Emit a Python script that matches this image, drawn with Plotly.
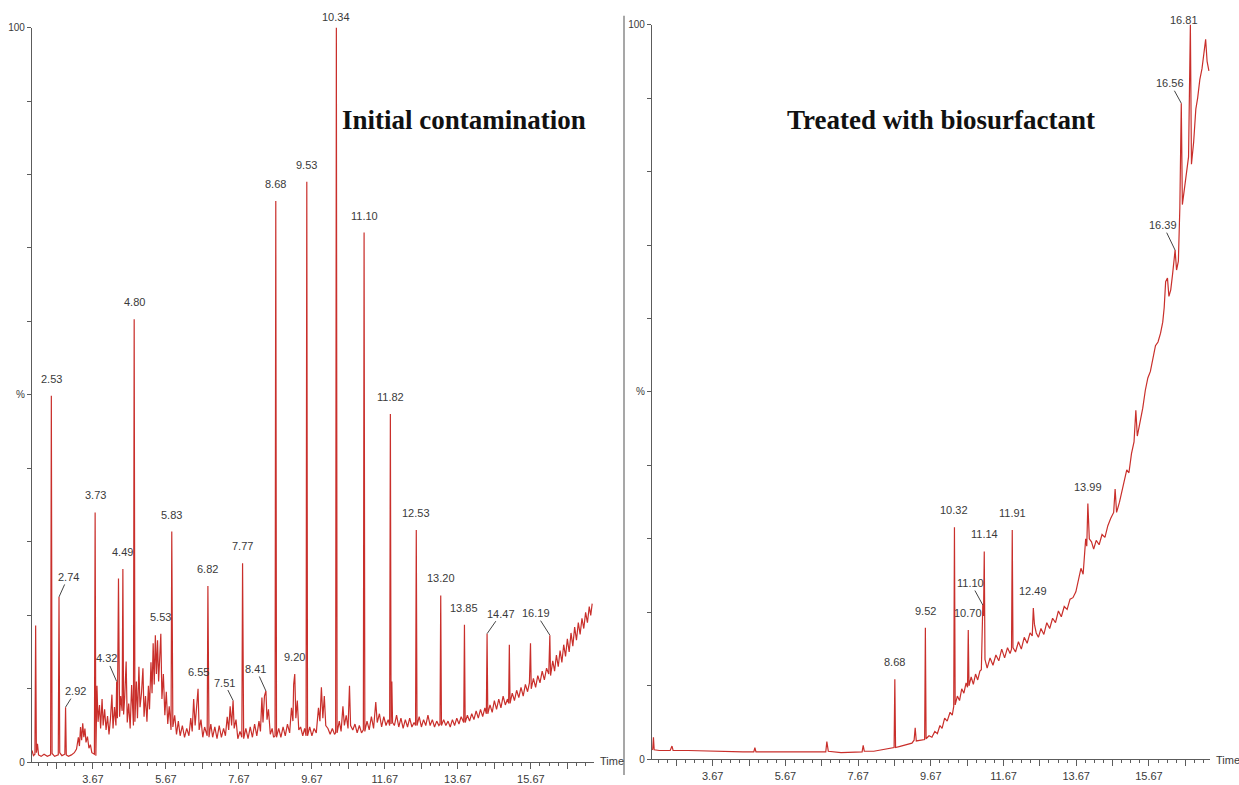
import plotly.graph_objects as go

W, H = 1239, 785

# ---------------------------------------------------------------------------
# Initial contamination: labelled peaks (retention time in min, % intensity)
LEFT_PEAK_RT = [2.53, 2.74, 2.92, 3.73, 4.32, 4.49, 4.80, 5.53, 5.83, 6.55,
                6.82, 7.51, 7.77, 8.41, 8.68, 9.20, 9.53, 10.34, 11.10, 11.82,
                12.53, 13.20, 13.85, 14.47, 16.19]
LEFT_PEAK_PCT = [49.9, 22.5, 7.5, 34.0, 11.0, 26.3, 60.3, 17.5, 31.4, 10.0,
                 24.0, 8.4, 27.1, 9.7, 76.4, 12.0, 79.0, 100.0, 72.1, 47.4,
                 31.6, 22.7, 18.7, 17.5, 17.3]

# baseline and unlabelled signal of the initial sample (time, %)
LEFT_SIGNAL = [
    (2.00, 1.6), (2.04, 0.9), (2.08, 1.1), (2.10, 18.6), (2.12, 1.3), (2.15, 2.5),
    (2.18, 1.0), (2.25, 0.8), (2.33, 1.1), (2.42, 0.8), (2.51, 1.0), (2.55, 1.2),
    (2.62, 0.8), (2.72, 1.0), (2.76, 1.3), (2.82, 0.9), (2.90, 1.1), (2.94, 1.0),
    (3.00, 0.8), (3.08, 1.0), (3.16, 1.3), (3.22, 1.8), (3.27, 3.4), (3.30, 2.2),
    (3.33, 4.8), (3.36, 3.0), (3.39, 5.3), (3.42, 3.4), (3.45, 4.6), (3.48, 2.7),
    (3.52, 3.5), (3.56, 1.9), (3.60, 2.4), (3.64, 1.3), (3.71, 1.1), (3.75, 0.9),
    (3.78, 10.4), (3.81, 5.5), (3.85, 7.8), (3.88, 4.6), (3.92, 8.6), (3.95, 5.0),
    (3.99, 7.2), (4.03, 4.4), (4.07, 6.3), (4.11, 3.8), (4.15, 5.9), (4.19, 9.2),
    (4.22, 4.6), (4.26, 7.5), (4.30, 5.0), (4.34, 6.0), (4.37, 25.0), (4.40, 6.2),
    (4.43, 9.0), (4.47, 7.0), (4.51, 6.5), (4.54, 8.8), (4.58, 13.7), (4.61, 5.4),
    (4.65, 8.0), (4.69, 4.6), (4.73, 10.5), (4.76, 6.0), (4.78, 5.0), (4.82, 5.5),
    (4.86, 11.0), (4.89, 6.0), (4.93, 13.0), (4.96, 7.5), (5.00, 9.4), (5.04, 12.8),
    (5.07, 6.2), (5.11, 9.0), (5.15, 5.5), (5.19, 10.4), (5.22, 7.2), (5.26, 13.6),
    (5.29, 9.4), (5.32, 16.2), (5.35, 10.6), (5.38, 17.3), (5.41, 12.0), (5.44, 16.6),
    (5.47, 11.0), (5.50, 14.4), (5.56, 8.6), (5.60, 12.0), (5.64, 6.4), (5.68, 9.6),
    (5.72, 5.2), (5.76, 7.6), (5.81, 4.4), (5.86, 4.8), (5.91, 6.4), (5.96, 3.8),
    (6.01, 5.6), (6.06, 3.6), (6.12, 5.0), (6.18, 3.4), (6.24, 4.6), (6.30, 3.6),
    (6.35, 6.0), (6.39, 4.2), (6.43, 8.6), (6.47, 5.0), (6.51, 7.8), (6.58, 4.4),
    (6.63, 5.8), (6.68, 3.4), (6.73, 4.8), (6.80, 3.6), (6.85, 3.4), (6.90, 5.2),
    (6.95, 3.4), (7.01, 4.8), (7.07, 3.2), (7.13, 5.0), (7.19, 3.4), (7.25, 4.6),
    (7.30, 3.6), (7.35, 6.2), (7.39, 4.4), (7.43, 7.6), (7.47, 5.0), (7.54, 4.6),
    (7.59, 5.8), (7.64, 3.2), (7.70, 4.2), (7.75, 3.4), (7.80, 3.2), (7.86, 4.6),
    (7.92, 3.2), (7.98, 4.8), (8.04, 3.4), (8.10, 5.2), (8.16, 3.6), (8.22, 5.6),
    (8.26, 4.2), (8.30, 8.8), (8.33, 5.4), (8.37, 9.0), (8.44, 5.8), (8.48, 7.2),
    (8.53, 3.8), (8.58, 4.6), (8.62, 3.4), (8.66, 3.6), (8.70, 3.4), (8.76, 4.6),
    (8.82, 3.4), (8.88, 4.8), (8.94, 3.6), (9.00, 5.2), (9.06, 4.0), (9.11, 7.4),
    (9.15, 5.6), (9.17, 10.6), (9.23, 6.0), (9.27, 8.4), (9.31, 4.4), (9.36, 4.8),
    (9.42, 3.6), (9.47, 4.6), (9.51, 3.6), (9.55, 3.6), (9.61, 4.8), (9.67, 3.6),
    (9.73, 4.6), (9.79, 4.0), (9.85, 7.4), (9.89, 5.6), (9.93, 10.2), (9.97, 6.0),
    (10.01, 9.0), (10.05, 5.0), (10.11, 4.6), (10.17, 3.8), (10.23, 4.6), (10.29, 3.8),
    (10.32, 4.0), (10.36, 4.0), (10.42, 5.6), (10.47, 4.2), (10.52, 7.6), (10.56, 5.0),
    (10.61, 6.4), (10.66, 4.6), (10.70, 10.4), (10.73, 5.0), (10.79, 4.4), (10.85, 5.2),
    (10.91, 4.0), (10.97, 5.0), (11.03, 4.0), (11.08, 4.4), (11.12, 4.2), (11.18, 5.6),
    (11.24, 4.4), (11.30, 6.2), (11.36, 4.6), (11.42, 8.2), (11.46, 5.4), (11.52, 6.6),
    (11.58, 4.8), (11.64, 6.2), (11.70, 5.0), (11.76, 5.8), (11.80, 5.0), (11.84, 5.2),
    (11.86, 11.0), (11.88, 5.4), (11.93, 5.0), (11.99, 6.4), (12.05, 4.8), (12.11, 6.0),
    (12.17, 4.6), (12.23, 5.8), (12.29, 4.8), (12.35, 6.0), (12.41, 4.8), (12.47, 5.4),
    (12.51, 5.0), (12.55, 5.0), (12.61, 6.2), (12.67, 4.8), (12.73, 5.8), (12.79, 5.0),
    (12.85, 6.4), (12.91, 5.0), (12.97, 5.8), (13.03, 4.8), (13.09, 5.6), (13.15, 5.0),
    (13.18, 5.2), (13.22, 5.0), (13.28, 5.8), (13.34, 5.0), (13.40, 5.6), (13.46, 4.8),
    (13.52, 5.8), (13.58, 5.0), (13.64, 6.0), (13.70, 5.2), (13.76, 6.2), (13.83, 5.4),
    (13.87, 5.4), (13.93, 6.4), (13.99, 5.6), (14.05, 6.6), (14.11, 5.8), (14.17, 7.0),
    (14.23, 6.0), (14.29, 7.2), (14.35, 6.2), (14.41, 7.4), (14.45, 6.6), (14.49, 6.6),
    (14.55, 7.8), (14.61, 6.8), (14.67, 8.4), (14.73, 7.2), (14.79, 8.6), (14.85, 7.4),
    (14.91, 9.0), (14.97, 7.8), (15.03, 8.6), (15.06, 8.0), (15.08, 16.0), (15.10, 8.0),
    (15.16, 9.4), (15.22, 8.4), (15.28, 9.8), (15.34, 8.8), (15.40, 10.2), (15.46, 9.0),
    (15.52, 10.6), (15.58, 9.6), (15.63, 10.8), (15.66, 16.2), (15.68, 10.0), (15.74, 11.4),
    (15.80, 10.2), (15.86, 11.8), (15.92, 10.8), (15.98, 12.4), (16.04, 11.2), (16.10, 12.8),
    (16.16, 12.0), (16.21, 11.8), (16.27, 13.8), (16.32, 12.4), (16.37, 14.6), (16.42, 13.0),
    (16.47, 15.2), (16.52, 13.6), (16.57, 16.0), (16.62, 14.4), (16.67, 16.8), (16.72, 15.0),
    (16.77, 17.6), (16.82, 15.8), (16.87, 18.4), (16.92, 16.6), (16.97, 19.0), (17.02, 17.4),
    (17.07, 19.6), (17.12, 18.2), (17.17, 20.4), (17.22, 19.0), (17.27, 21.2), (17.31, 20.0),
    (17.35, 21.6),
]

# ---------------------------------------------------------------------------
# Treated with biosurfactant: labelled peaks (retention time in min, % intensity)
RIGHT_PEAK_RT = [8.68, 9.52, 10.32, 10.70, 11.10, 11.14, 11.91, 12.49, 13.99,
                 16.39, 16.56, 16.81]
RIGHT_PEAK_PCT = [10.9, 17.9, 31.6, 17.6, 21.0, 28.3, 31.2, 20.6, 34.8,
                  69.3, 89.3, 100.0]

# baseline and unlabelled signal of the treated sample (time, %)
RIGHT_SIGNAL = [
    (2.00, 1.3), (2.02, 1.4), (2.04, 3.0), (2.06, 1.3), (2.20, 1.2), (2.50, 1.2),
    (2.55, 1.8), (2.58, 1.2), (3.00, 1.2), (3.50, 1.1), (4.00, 1.1), (4.50, 1.0),
    (4.80, 1.0), (4.83, 1.6), (4.86, 1.0), (5.40, 1.0), (6.00, 0.9), (6.50, 0.9),
    (6.78, 1.0), (6.81, 2.4), (6.85, 1.1), (7.20, 0.9), (7.60, 1.0), (7.78, 1.0),
    (7.81, 1.9), (7.84, 1.1), (8.10, 1.1), (8.30, 1.3), (8.50, 1.5), (8.66, 1.6),
    (8.70, 1.6), (8.85, 1.8), (9.00, 2.0), (9.15, 2.2), (9.21, 2.6), (9.24, 4.3),
    (9.27, 2.5), (9.40, 2.6), (9.50, 2.7), (9.54, 2.8), (9.62, 3.2), (9.70, 3.0),
    (9.78, 3.8), (9.85, 3.5), (9.92, 4.6), (9.98, 4.2), (10.05, 5.6), (10.12, 5.2),
    (10.20, 6.4), (10.26, 6.0), (10.30, 7.2), (10.34, 7.4), (10.40, 8.6), (10.46, 8.0),
    (10.52, 9.6), (10.58, 9.0), (10.64, 10.4), (10.68, 9.8), (10.72, 10.0), (10.78, 11.2),
    (10.84, 10.2), (10.90, 11.6), (10.96, 10.8), (11.02, 12.0), (11.06, 12.2), (11.12, 19.5),
    (11.16, 13.6), (11.22, 12.4), (11.30, 13.8), (11.38, 12.8), (11.46, 14.2), (11.54, 13.4),
    (11.62, 15.0), (11.70, 13.8), (11.78, 15.2), (11.85, 14.4), (11.89, 15.0), (11.93, 15.2),
    (12.00, 14.6), (12.08, 16.0), (12.16, 15.0), (12.24, 16.6), (12.32, 15.8), (12.40, 17.2),
    (12.46, 16.8), (12.52, 18.4), (12.57, 17.2), (12.63, 16.6), (12.70, 17.8), (12.78, 17.0),
    (12.86, 18.6), (12.94, 17.8), (13.02, 19.2), (13.10, 18.6), (13.18, 20.2), (13.26, 19.4),
    (13.34, 20.8), (13.42, 20.4), (13.50, 21.8), (13.58, 22.0), (13.66, 22.8), (13.72, 24.0),
    (13.80, 26.0), (13.86, 25.2), (13.93, 30.0), (13.96, 29.0), (14.03, 30.0), (14.09, 29.6),
    (14.15, 28.6), (14.22, 29.8), (14.30, 29.2), (14.38, 30.6), (14.46, 30.2), (14.54, 31.8),
    (14.62, 32.8), (14.70, 33.6), (14.74, 36.8), (14.78, 33.6), (14.86, 35.0), (14.94, 36.8),
    (15.01, 38.2), (15.06, 39.4), (15.12, 39.0), (15.19, 41.6), (15.26, 43.2), (15.31, 47.5),
    (15.35, 44.0), (15.42, 45.6), (15.50, 47.8), (15.57, 50.2), (15.64, 51.9), (15.71, 52.8),
    (15.78, 54.6), (15.85, 56.3), (15.92, 56.8), (15.99, 58.0), (16.05, 59.5), (16.09, 61.5),
    (16.13, 65.0), (16.18, 65.5), (16.22, 63.0), (16.27, 63.9), (16.32, 66.0), (16.36, 67.5),
    (16.43, 66.6), (16.48, 67.8), (16.52, 75.0), (16.59, 75.5), (16.64, 77.5), (16.70, 79.5),
    (16.76, 82.0), (16.84, 81.0), (16.90, 84.0), (16.96, 88.5), (17.01, 90.0), (17.07, 92.5),
    (17.13, 94.0), (17.19, 96.5), (17.23, 98.0), (17.27, 95.0), (17.32, 93.7),
]

# axis ticks (minutes / relative abundance)
X_TICK_VALUES = [2.67, 3.67, 4.67, 5.67, 6.67, 7.67, 8.67, 9.67, 10.67, 11.67,
                 12.67, 13.67, 14.67, 15.67, 16.67]
X_TICK_TEXT = ["", "3.67", "", "5.67", "", "7.67", "", "9.67", "", "11.67",
               "", "13.67", "", "15.67", ""]
X_MINOR_STEP = 0.25
Y_TICK_VALUES = [0, 10, 20, 30, 40, 50, 60, 70, 80, 90, 100]
Y_TICK_TEXT = ["0", "", "", "", "", "%", "", "", "", "", "100"]

PANEL_TITLES = ["Initial contamination", "Treated with biosurfactant"]

# ---------------------------------------------------------------------------
# styling
RED = "#c92f2b"
AXIS = "#5c5c5c"
TXT = "#3a3a3a"
SANS = "Liberation Sans, Arial, sans-serif"
SERIF = "Liberation Serif, Times New Roman, serif"

# label offsets (pixels) for labels drawn with a leader line
LEFT_LEADERS = {2.74: (9, -20), 2.92: (10, -16), 4.32: (-10, -23), 7.51: (-9, -18),
                8.41: (-10, -22), 14.47: (14, -20), 16.19: (-14, -22)}
RIGHT_LEADERS = {11.10: (-12, -22), 16.39: (-12, -25), 16.56: (-11, -20)}
# labels shifted without a leader (dx, dy) in pixels
LEFT_SHIFTS = {10.34: (0, 11)}
RIGHT_SHIFTS = {16.81: (-6, 5)}


def px_x(p):
    return p / W


def px_y(p):
    return 1 - p / H


def merged(rt, pct, signal):
    pts = sorted(list(signal) + list(zip(rt, pct)), key=lambda p: p[0])
    return [p[0] for p in pts], [p[1] for p in pts]


lx, ly = merged(LEFT_PEAK_RT, LEFT_PEAK_PCT, LEFT_SIGNAL)
rx, ry = merged(RIGHT_PEAK_RT, RIGHT_PEAK_PCT, RIGHT_SIGNAL)

# minor tick positions every quarter minute across the time axis
minor_ticks = [round(2.17 + i * X_MINOR_STEP, 2) for i in range(62)]
minor_ticks = [v for v in minor_ticks if v not in X_TICK_VALUES]

fig = go.Figure()
fig.add_trace(go.Scatter(x=lx, y=ly, mode="lines", line=dict(color=RED, width=1.2),
                         xaxis="x", yaxis="y", hoverinfo="skip", showlegend=False))
fig.add_trace(go.Scatter(x=rx, y=ry, mode="lines", line=dict(color=RED, width=1.2),
                         xaxis="x2", yaxis="y2", hoverinfo="skip", showlegend=False))


def x_axis(domain, rng, anchor):
    return dict(domain=domain, range=rng, anchor=anchor, showline=True,
                linecolor=AXIS, linewidth=1.3, ticks="outside", ticklen=6,
                tickwidth=1, tickcolor=AXIS, tickmode="array",
                tickvals=X_TICK_VALUES, ticktext=X_TICK_TEXT,
                minor=dict(ticks="outside", ticklen=3, tickwidth=1, tickcolor=AXIS,
                           tickmode="array", tickvals=minor_ticks, showgrid=False),
                showgrid=False, zeroline=False, fixedrange=True,
                tickfont=dict(family=SANS, size=11, color=TXT))


def y_axis(domain, anchor):
    return dict(domain=domain, range=[0, 100], anchor=anchor, showline=True,
                linecolor=AXIS, linewidth=1.3, ticks="outside", ticklen=4,
                tickwidth=1, tickcolor=AXIS, tickmode="array",
                tickvals=Y_TICK_VALUES, ticktext=Y_TICK_TEXT, showgrid=False,
                zeroline=False, fixedrange=True,
                tickfont=dict(family=SANS, size=10, color=TXT))


annotations = []


def peak_labels(rts, pcts, xref, yref, leaders, shifts):
    for rt, pct in zip(rts, pcts):
        text = f"{rt:.2f}"
        base = dict(x=rt, y=pct, xref=xref, yref=yref, text=text,
                    font=dict(family=SANS, size=11, color=TXT))
        if rt in leaders:
            dx, dy = leaders[rt]
            base.update(showarrow=True, arrowhead=0, arrowwidth=1,
                        arrowcolor="#444444", ax=dx, ay=dy, standoff=0)
        else:
            dx, dy = shifts.get(rt, (0, 17))
            base.update(showarrow=False, xshift=dx, yshift=dy,
                        xanchor="center", yanchor="middle")
        annotations.append(base)


peak_labels(LEFT_PEAK_RT, LEFT_PEAK_PCT, "x", "y", LEFT_LEADERS, LEFT_SHIFTS)
peak_labels(RIGHT_PEAK_RT, RIGHT_PEAK_PCT, "x2", "y2", RIGHT_LEADERS, RIGHT_SHIFTS)

# panel titles
for title, cx in zip(PANEL_TITLES, [464, 941]):
    annotations.append(dict(x=px_x(cx), y=px_y(117), xref="paper", yref="paper",
                            text=f"<b>{title}</b>", showarrow=False,
                            xanchor="center", yanchor="middle",
                            font=dict(family=SERIF, size=27, color="#111111")))

# "Time" axis captions
for cx, cy in [(598, 771), (1214, 770)]:
    annotations.append(dict(x=px_x(cx), y=px_y(cy), xref="paper", yref="paper",
                            text="Time", showarrow=False, xanchor="left",
                            yanchor="middle",
                            font=dict(family=SANS, size=11, color=TXT)))

fig.update_layout(
    width=W, height=H, margin=dict(l=0, r=0, t=0, b=0),
    paper_bgcolor="white", plot_bgcolor="white",
    xaxis=x_axis([px_x(32), px_x(594)], [2.0, 17.40], "y"),
    yaxis=y_axis([px_y(772), px_y(23)], "x"),
    xaxis2=x_axis([px_x(652), px_x(1210)], [2.0, 17.35], "y2"),
    yaxis2=y_axis([px_y(769), px_y(20)], "x2"),
    annotations=annotations,
    shapes=[dict(type="line", xref="paper", yref="paper",
                 x0=px_x(624), x1=px_x(624), y0=0, y1=px_y(11),
                 line=dict(color="#8a8a8a", width=1.5))],
)

fig.write_html("out.html")
